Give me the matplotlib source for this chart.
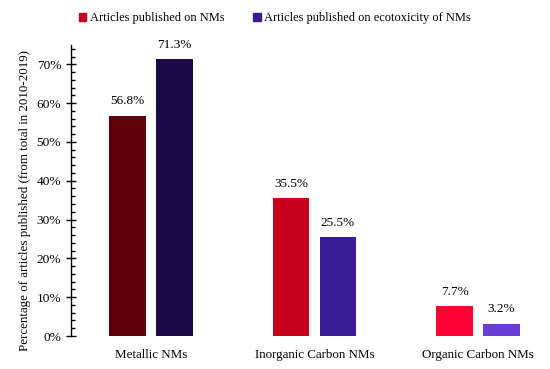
import matplotlib
matplotlib.use("Agg")
import matplotlib.pyplot as plt
from matplotlib.patches import Patch
from matplotlib.ticker import MultipleLocator, PercentFormatter
import numpy as np

plt.rcParams['font.family'] = ['Liberation Serif', 'DejaVu Serif']

categories = ["Metallic NMs", "Inorganic Carbon NMs", "Organic Carbon NMs"]
nms_values = [56.8, 35.5, 7.7]
ecotox_values = [71.3, 25.5, 3.2]
series_names = ["Articles published on NMs", "Articles published on ecotoxicity of NMs"]
nms_colors = ["#600008", "#c8001e", "#ff0033"]
ecotox_colors = ["#1c0a48", "#3b1a9a", "#6a3fd6"]

fig = plt.figure(figsize=(5.5, 3.69), dpi=100)
ax = fig.add_axes([0.129, 0.0894, 0.868, 0.789])

x = np.arange(len(categories))
w = 0.223
off = 0.143
b1 = ax.bar(x - off, nms_values, w, color=nms_colors)
b2 = ax.bar(x + off, ecotox_values, w, color=ecotox_colors)

for bars, vals in ((b1, nms_values), (b2, ecotox_values)):
    for r, v in zip(bars, vals):
        ax.annotate(f"{v:.1f}%", (r.get_x() + r.get_width() / 2, v),
                    xytext=(0, 6), textcoords="offset points",
                    ha="center", va="bottom", fontsize=9.5)

ax.set_xlim(-0.49, 2.43)
ax.set_ylim(0, 75)
ax.yaxis.set_major_locator(MultipleLocator(10))
ax.yaxis.set_minor_locator(MultipleLocator(2))
ax.yaxis.set_major_formatter(PercentFormatter(decimals=0))
ax.tick_params(axis='y', which='major', direction='inout', length=7, width=1, labelsize=9.6)
ax.tick_params(axis='y', which='minor', direction='in', length=3, width=1)
ax.set_xticks(x)
ax.set_xticklabels(categories, fontsize=9.4)
ax.tick_params(axis='x', length=0, pad=9)
for s in ('top', 'right', 'bottom'):
    ax.spines[s].set_visible(False)
ax.spines['left'].set_linewidth(1)

ax.set_ylabel("Percentage of articles published (from total in 2010-2019)", fontsize=9.4)
ax.yaxis.set_label_coords(-0.084, 0.465)

handles = [Patch(color="#c8001e"), Patch(color="#3b1a9a")]
fig.legend(handles, series_names, loc='center', bbox_to_anchor=(0.5, 0.951), ncol=2,
           frameon=False, fontsize=8.9, handlelength=0.6, handleheight=0.6,
           handletextpad=0.3, columnspacing=2.3)

fig.savefig("out.png", dpi=100)
